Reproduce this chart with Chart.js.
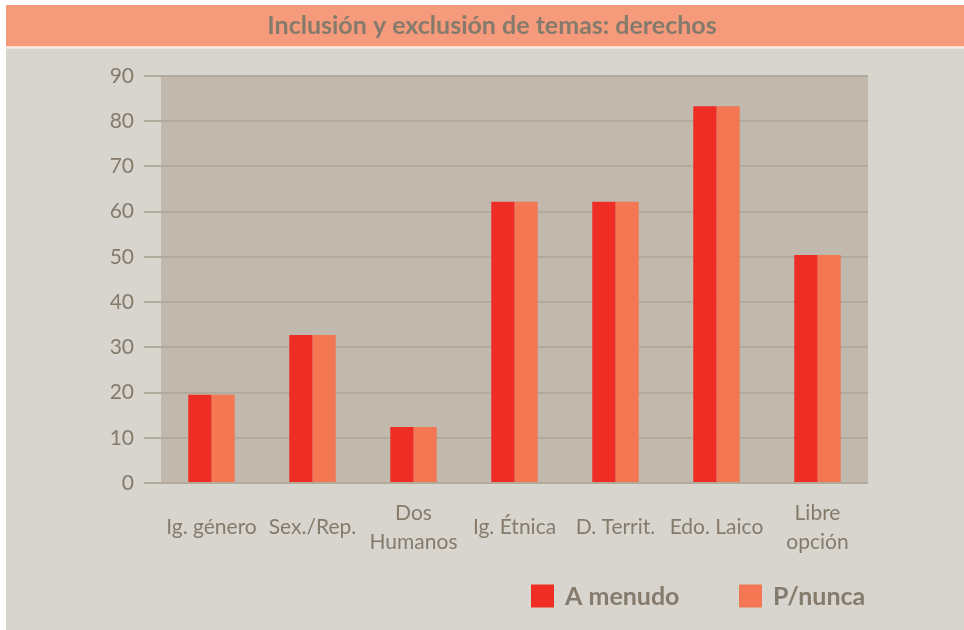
<!DOCTYPE html>
<html>
<head>
<meta charset="utf-8">
<script src="https://cdn.jsdelivr.net/npm/chart.js@4"></script>
<style>
  html, body { margin: 0; padding: 0; background: #ffffff; }
  #wrap { width: 964px; height: 630px; }
</style>
</head>
<body>
<div id="wrap"><canvas id="c" width="964" height="630"></canvas></div>
<script>
const chartTitle = 'Inclusión y exclusión de temas: derechos';
const categories = [['Ig. género'], ['Sex./Rep.'], ['Dos', 'Humanos'], ['Ig. Étnica'], ['D. Territ.'], ['Edo. Laico'], ['Libre', 'opción']];
const seriesNames = ['A menudo', 'P/nunca'];
const aMenudo = [19.5, 32.7, 12.4, 62.2, 62.2, 83.3, 50.4];
const pNunca = [19.5, 32.7, 12.4, 62.2, 62.2, 83.3, 50.4];
const yTickMin = 0, yTickMax = 90, yTickStep = 10;

const TEXT = '#857b6d';

const decor = {
  id: 'decor',
  beforeDraw(chart) {
    const ctx = chart.ctx, W = chart.width, H = chart.height, a = chart.chartArea;
    ctx.save();
    ctx.fillStyle = '#ffffff';
    ctx.fillRect(0, 0, W, H);
    ctx.fillStyle = '#f59b7b';
    ctx.fillRect(6, 5, W - 6, 41.5);
    ctx.fillStyle = '#fbe9e2';
    ctx.fillRect(6, 46.5, W - 6, 2);
    ctx.fillStyle = '#d8d4ce';
    ctx.fillRect(6, 48.5, W - 6, H - 48.5);
    ctx.fillStyle = '#c1b9ad';
    ctx.fillRect(a.left, a.top, a.right - a.left, a.bottom - a.top);
    ctx.fillStyle = TEXT;
    ctx.font = 'bold 25px Lato';
    ctx.textAlign = 'center';
    ctx.textBaseline = 'middle';
    ctx.fillText(chartTitle, W / 2 + 10, 26);
    ctx.restore();
  },
  afterDraw(chart) {
    const ctx = chart.ctx;
    ctx.save();
    ctx.font = 'bold 25px Lato';
    ctx.textBaseline = 'middle';
    ctx.textAlign = 'left';
    const y = 596, box = 23;
    let x = 531;
    chart.data.datasets.forEach((ds, i) => {
      ctx.fillStyle = ds.backgroundColor;
      ctx.fillRect(x, y - box / 2, box, box);
      ctx.fillStyle = TEXT;
      ctx.fillText(ds.label, x + box + 11, y + 1);
      x += 208;
    });
    ctx.restore();
  }
};

new Chart(document.getElementById('c'), {
  type: 'bar',
  data: {
    labels: categories,
    datasets: [
      { label: seriesNames[0], data: aMenudo, backgroundColor: '#ee2e24', borderWidth: 0 },
      { label: seriesNames[1], data: pNunca, backgroundColor: '#f37753', borderWidth: 0 }
    ]
  },
  options: {
    responsive: false,
    animation: false,
    devicePixelRatio: 1,
    layout: { padding: { left: 0, top: 76, right: 96, bottom: 0 } },
    datasets: { bar: { categoryPercentage: 0.46, barPercentage: 1 } },
    plugins: {
      legend: { display: false },
      title: { display: false },
      tooltip: { enabled: false }
    },
    scales: {
      x: {
        grid: { display: false, drawTicks: false },
        border: { display: false },
        afterFit(s) { s.height = 147; },
        ticks: {
          color: TEXT,
          font: { family: 'Lato', size: 21, lineHeight: 1.4 },
          padding: 30,
          crossAlign: 'center',
          maxRotation: 0,
          minRotation: 0,
          autoSkip: false
        }
      },
      y: {
        min: yTickMin,
        max: yTickMax,
        afterFit(s) { s.width = 161; },
        grid: { color: '#b2aa9d', lineWidth: 2, tickLength: 17, tickColor: '#b2aa9d', drawTicks: true },
        border: { display: false },
        ticks: {
          stepSize: yTickStep,
          color: TEXT,
          font: { family: 'Lato', size: 21 },
          padding: 10
        }
      }
    }
  },
  plugins: [decor]
});
</script>
</body>
</html>
